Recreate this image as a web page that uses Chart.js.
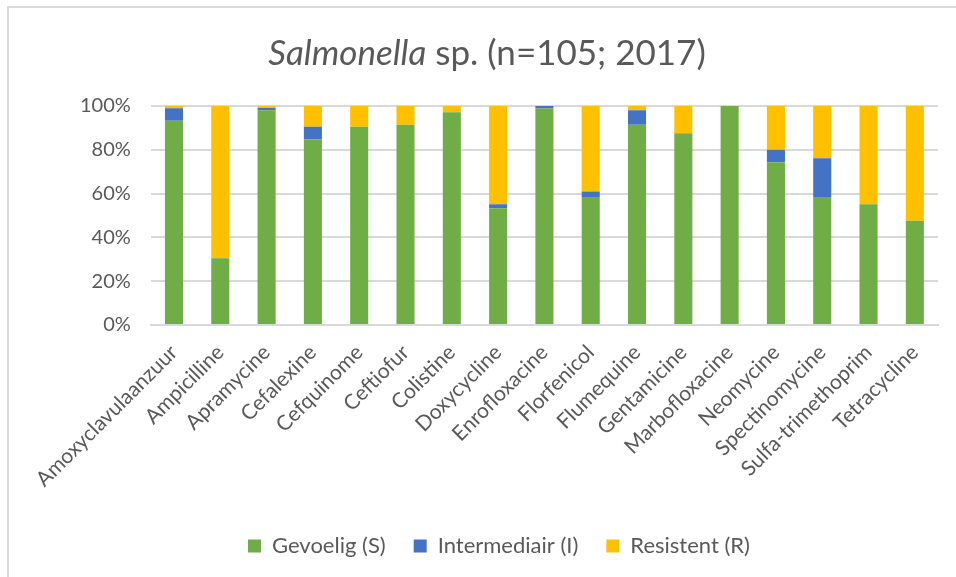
<!DOCTYPE html>
<html lang="nl">
<head>
    <meta charset="UTF-8">
    <title>Salmonella sp. (n=105; 2017)</title>
    <script src="https://cdn.jsdelivr.net/npm/chart.js"></script>
    <style>
        html, body { margin: 0; padding: 0; background: #fff; }
        body { font-family: 'Lato', sans-serif; position: relative; width: 956px; height: 577px; overflow: hidden; }
        #frame {
            position: absolute;
            top: 6px;
            left: 7px;
            width: 960px;
            height: 580px;
            border-top: 2px solid #d9d9d9;
            border-left: 2px solid #d9d9d9;
        }
        #title {
            position: absolute;
            top: 31px;
            left: 0;
            width: 974px;
            text-align: center;
            font-size: 35px;
            line-height: 40px;
            color: #595959;
        }
        canvas { position: absolute; top: 0; left: 0; }
    </style>
</head>
<body>
    <div id="frame"></div>
    <canvas id="chart" width="956" height="577"></canvas>
    <div id="title"><i>Salmonella</i> sp. (n=105; 2017)</div>

    <script>
        // Antibiotica en percentages per categorie (n=105)
        const antibiotics = ['Amoxyclavulaanzuur', 'Ampicilline', 'Apramycine', 'Cefalexine', 'Cefquinome', 'Ceftiofur',
            'Colistine', 'Doxycycline', 'Enrofloxacine', 'Florfenicol', 'Flumequine', 'Gentamicine',
            'Marbofloxacine', 'Neomycine', 'Spectinomycine', 'Sulfa-trimethoprim', 'Tetracycline'];
        const gevoelig     = [93.3, 30.5, 98.1, 84.8, 90.5, 91.4, 97.1, 53.3, 99.0, 58.1, 91.4, 87.6, 100, 74.3, 58.1, 55.2, 47.6];
        const intermediair = [5.7, 0, 1.0, 5.7, 0, 0, 0, 1.9, 1.0, 2.9, 6.7, 0, 0, 5.7, 18.1, 0, 0];
        const resistent    = [1.0, 69.5, 1.0, 9.5, 9.5, 8.6, 2.9, 44.8, 0, 39.0, 1.9, 12.4, 0, 20.0, 23.8, 44.8, 52.4];
        const yTicks = [0, 20, 40, 60, 80, 100];

        const textColor = '#595959';
        const gridColor = '#d9d9d9';

        const ctx = document.getElementById('chart').getContext('2d');
        const bar = { barPercentage: 0.78, categoryPercentage: 0.5 };

        new Chart(ctx, {
            type: 'bar',
            data: {
                labels: antibiotics,
                datasets: [
                    { label: 'Gevoelig (S)', data: gevoelig, backgroundColor: '#70ad47', ...bar },
                    { label: 'Intermediair (I)', data: intermediair, backgroundColor: '#4472c4', ...bar },
                    { label: 'Resistent (R)', data: resistent, backgroundColor: '#ffc000', ...bar }
                ]
            },
            options: {
                responsive: false,
                animation: false,
                devicePixelRatio: 1,
                layout: { padding: { left: 60, right: 18, top: 106, bottom: 10 } },
                scales: {
                    x: {
                        stacked: true,
                        grid: { display: false, drawTicks: false },
                        border: { color: gridColor, width: 2 },
                        ticks: {
                            color: textColor,
                            font: { family: 'Lato', size: 21 },
                            minRotation: 45,
                            maxRotation: 45,
                            padding: 15,
                            autoSkip: false
                        }
                    },
                    y: {
                        stacked: true,
                        min: 0,
                        max: 100,
                        afterBuildTicks: axis => { axis.ticks = yTicks.map(v => ({ value: v })); },
                        grid: { color: gridColor, lineWidth: 2, drawTicks: false },
                        border: { display: false },
                        ticks: {
                            color: textColor,
                            font: { family: 'Lato', size: 20 },
                            padding: 20,
                            callback: v => v + '%'
                        }
                    }
                },
                plugins: {
                    legend: {
                        position: 'bottom',
                        labels: {
                            color: textColor,
                            font: { family: 'Lato', size: 22 },
                            boxWidth: 13,
                            boxHeight: 13,
                            padding: 28
                        }
                    },
                    tooltip: { enabled: false }
                }
            }
        });
    </script>
</body>
</html>
